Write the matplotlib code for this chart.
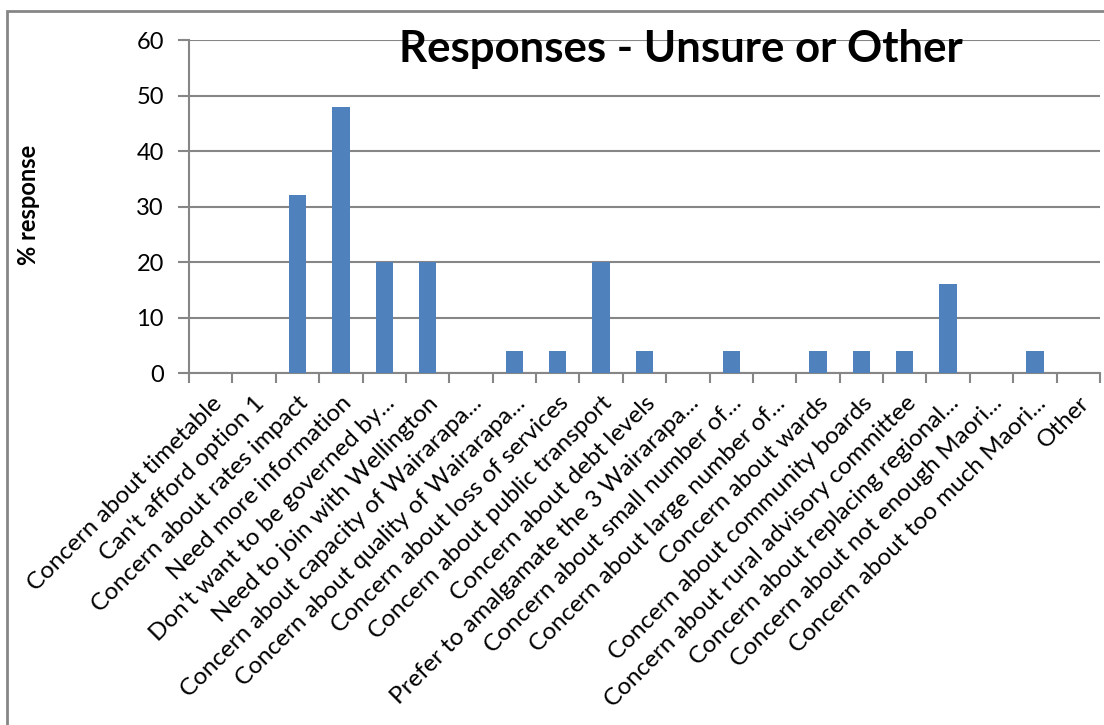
import matplotlib
matplotlib.use('Agg')
import matplotlib.pyplot as plt
from matplotlib.patches import Rectangle

categories = [
    "Concern about timetable",
    "Can't afford option 1",
    "Concern about rates impact",
    "Need more information",
    "Don't want to be governed by...",
    "Need to join with Wellington",
    "Concern about capacity of Wairarapa...",
    "Concern about quality of Wairarapa...",
    "Concern about loss of services",
    "Concern about public transport",
    "Concern about debt levels",
    "Prefer to amalgamate the 3 Wairarapa...",
    "Concern about small number of...",
    "Concern about large number of...",
    "Concern about wards",
    "Concern about community boards",
    "Concern about rural advisory committee",
    "Concern about replacing regional...",
    "Concern about not enough Maori...",
    "Concern about too much Maori...",
    "Other",
]
values = [0, 0, 32, 48, 20, 20, 0, 4, 4, 20, 4, 0, 4, 0, 4, 4, 4, 16, 0, 4, 0]
y_ticks = [0, 10, 20, 30, 40, 50, 60]

plt.rcParams['font.family'] = ['Lato', 'DejaVu Sans']
grid_col = '#868686'

fig = plt.figure(figsize=(11.04, 7.25), dpi=100)
ax = fig.add_axes([189/1104, 1 - 373/725, (1100 - 189)/1104, (373 - 40)/725])

x = list(range(len(categories)))
ax.bar(x, values, width=0.4, color='#4F81BD', zorder=3)

ax.set_xlim(-0.5, len(categories) - 0.5)
ax.set_ylim(0, 60)
ax.set_yticks(y_ticks)
ax.yaxis.grid(True, color=grid_col, linewidth=1.5, zorder=0)

for s in ['top', 'right']:
    ax.spines[s].set_visible(False)
for s in ['left', 'bottom']:
    ax.spines[s].set_color(grid_col)
    ax.spines[s].set_linewidth(1.5)

ax.tick_params(axis='y', length=8, width=1.5, color=grid_col, labelsize=17, pad=10)
# category ticks sit between the bars
ax.set_xticks([i - 0.5 for i in range(len(categories) + 1)], minor=False)
ax.set_xticklabels([])
ax.tick_params(axis='x', which='major', length=7, width=1.5, color=grid_col)
ax.set_xticks(x, minor=True)
ax.set_xticklabels(categories, minor=True, rotation=45, ha='right',
                   rotation_mode='anchor', fontsize=17.5)
ax.tick_params(axis='x', which='minor', length=0, pad=14)

fig.text(681/1104, 1 - 49/725, 'Responses - Unsure or Other', fontsize=31.5,
         fontweight='bold', ha='center', va='center')
fig.text(28/1104, 1 - 205/725, '% response', fontsize=17, fontweight='bold',
         rotation=90, ha='center', va='center')

# outer chart frame
fig.patches.append(Rectangle((7/1104, -0.05), 1.1, 1 - 11/725 + 0.05,
                             transform=fig.transFigure, fill=False,
                             edgecolor=grid_col, linewidth=2))

fig.savefig('out.png', dpi=100)
